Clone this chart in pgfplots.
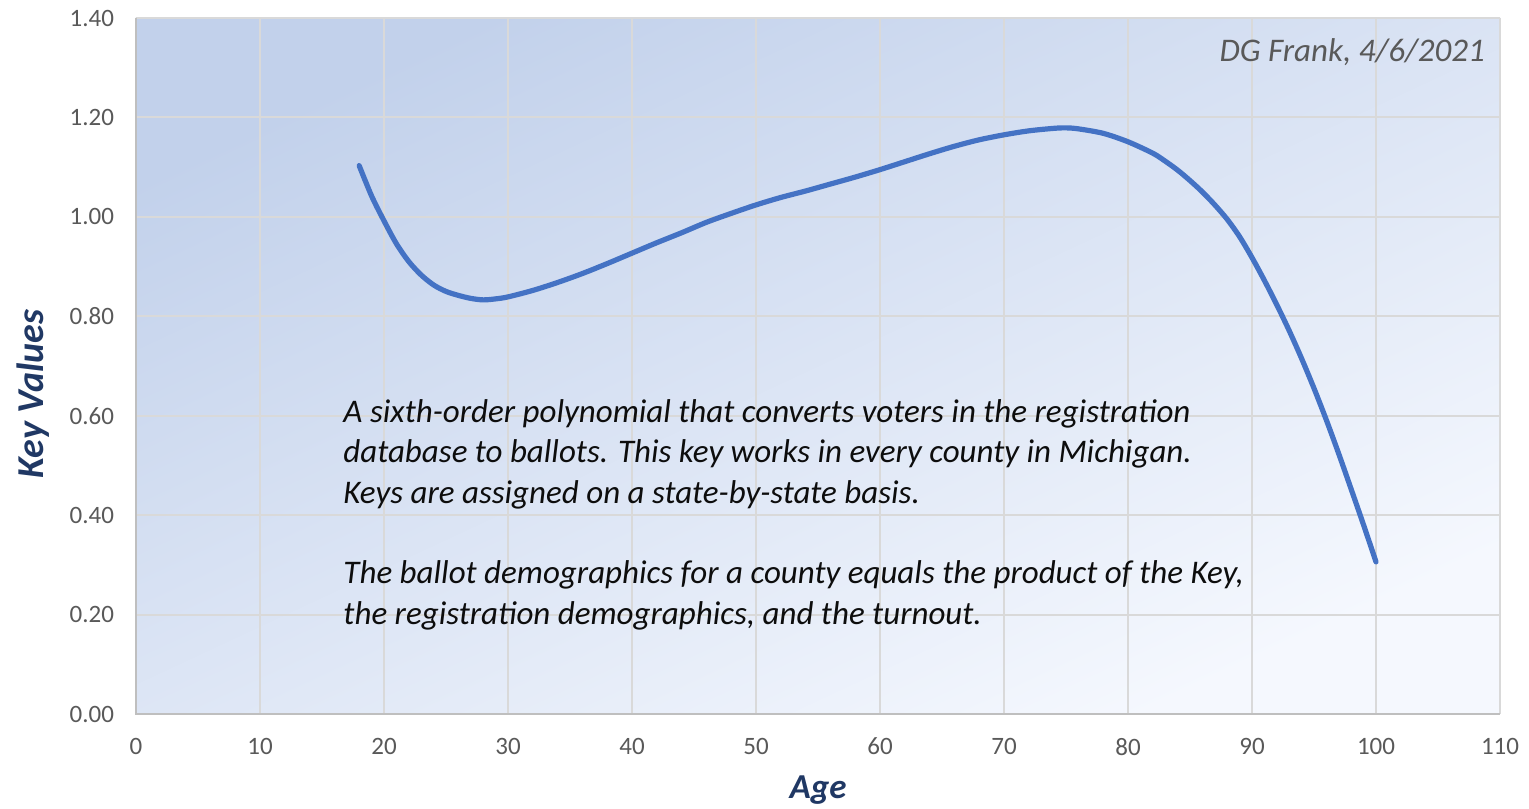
\documentclass[border=0pt]{standalone}
\usepackage{fontspec}
\setmainfont{Carlito}
\usepackage{pgfplots}
\pgfplotsset{compat=1.18}
\definecolor{curve}{RGB}{68,114,196}
\definecolor{gridc}{RGB}{217,217,217}
\definecolor{axisc}{RGB}{191,191,191}
\definecolor{tickc}{RGB}{89,89,89}
\definecolor{navy}{RGB}{32,56,100}
\definecolor{bgtop}{RGB}{194,209,235}
\definecolor{bgbot}{RGB}{245,248,254}
\begin{document}
\begin{tikzpicture}
\path[use as bounding box] (-68pt,-47pt) rectangle (696.5pt,357pt);
\begin{axis}[
  scale only axis,
  width=682pt, height=348pt,
  xmin=0, xmax=110, ymin=0, ymax=1.4,
  xtick={0,10,...,110},
  ytick={0,0.2,0.4,0.6,0.8,1.0,1.2,1.4},
  grid=major,
  major grid style={gridc, line width=1pt},
  major tick length=0pt,
  axis line style={draw=none},
  axis background/.style={top color=bgtop, bottom color=bgbot, shading angle=25},
  /pgf/number format/assume math mode=true,
  yticklabel style={/pgf/number format/fixed, /pgf/number format/fixed zerofill, /pgf/number format/precision=2, font=\fontsize{12.5}{14}\selectfont, text=tickc, xshift=-7.5pt},
  xticklabel style={font=\fontsize{12.5}{14}\selectfont, text=tickc, yshift=-8.5pt},
  xlabel={Age},
  ylabel={Key Values},
  xlabel style={font=\fontsize{17.5}{20}\selectfont\bfseries\itshape, text=navy, at={(axis description cs:0.5,-0.109)}, anchor=center},
  ylabel style={font=\fontsize{19}{22}\selectfont\bfseries\itshape, text=navy, at={(axis description cs:-0.0755,0.46)}, anchor=center},
  clip=false,
]
\draw[axisc, line width=1.2pt] (axis cs:0,1.4) -- (axis cs:0,0) -- (axis cs:110,0);
\addplot[curve, line width=2.6pt, smooth, line cap=round, no marks] coordinates {
(18,1.103) (19,1.042) (20,0.992) (21,0.946) (22,0.910) (23,0.883) (24,0.863)
(25,0.850) (26,0.842) (27,0.836) (28,0.833) (29,0.835) (30,0.839) (32,0.852)
(34,0.868) (36,0.886) (38,0.906) (40,0.927) (42,0.948) (44,0.968) (46,0.989)
(48,1.007) (50,1.024) (52,1.039) (54,1.052) (56,1.066) (58,1.080) (60,1.095)
(62,1.111) (64,1.127) (66,1.142) (68,1.155) (70,1.165) (72,1.173) (74,1.178)
(75,1.179) (76,1.177) (78,1.168) (80,1.151) (82,1.128) (83,1.112) (84,1.094)
(85,1.073) (86,1.050) (87,1.024) (88,0.995) (89,0.960) (90,0.918) (91,0.872)
(92,0.823) (93,0.771) (94,0.715) (95,0.655) (96,0.591) (97,0.523) (98,0.452)
(99,0.380) (100,0.306)
};
\begin{scope}[every node/.style={anchor=base west, inner sep=0pt, font=\fontsize{16.5}{18}\selectfont\itshape, text={rgb,255:red,13;green,13;blue,13}}]
\node at (axis cs:16.7,0.5855) {A sixth-order polynomial that converts voters in the registration};
\node at (axis cs:16.7,0.5050) {database to ballots. This key works in every county in Michigan.};
\node at (axis cs:16.7,0.4225) {Keys are assigned on a state-by-state basis.};
\node at (axis cs:16.7,0.2616) {The ballot demographics for a county equals the product of the Key,};
\node at (axis cs:16.7,0.1810) {the registration demographics, and the turnout.};
\end{scope}
\node[anchor=base east, inner sep=0pt, font=\fontsize{16.5}{18}\selectfont\itshape, text=tickc] at (axis cs:108.8,1.312) {DG Frank, 4/6/2021};
\end{axis}
\end{tikzpicture}
\end{document}
